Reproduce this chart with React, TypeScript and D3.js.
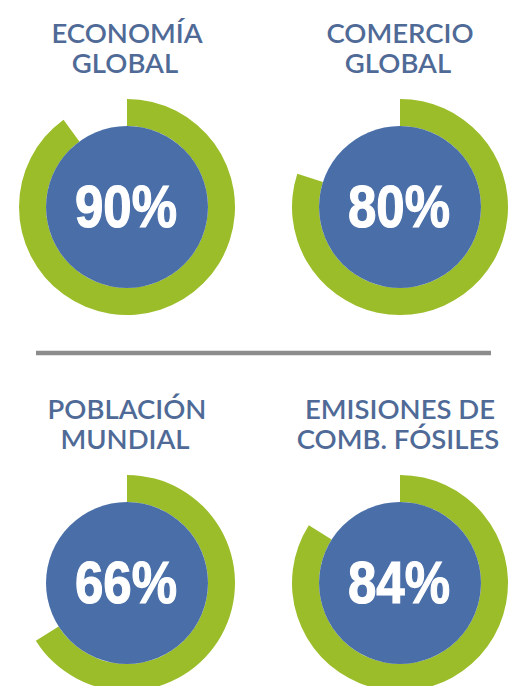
import React from "react";
import * as d3 from "d3";

const titlesLine1 = ["ECONOMÍA", "COMERCIO", "POBLACIÓN", "EMISIONES DE"];
const titlesLine2 = ["GLOBAL", "GLOBAL", "MUNDIAL", "COMB. FÓSILES"];
const shares = [90, 80, 66, 84];
const labels = ["90%", "80%", "66%", "84%"];

const W = 515;
const H = 686;
const GREEN = "#9cbd2a";
const BLUE = "#4a6fa8";
const TITLE = "#4f6a96";

export default function App() {
  const col = d3.scalePoint<number>().domain([0, 1]).range([127, 400]);
  const row = d3.scalePoint<number>().domain([0, 1]).range([207, 583]);
  const angle = d3.scaleLinear().domain([0, 100]).range([0, 2 * Math.PI]);
  const rOuter = 108;
  const rInner = 81;
  const arc = d3.arc<any>().innerRadius(rInner).outerRadius(rOuter).startAngle(0);

  return (
    <svg
      width={W}
      height={H}
      style={{ position: "absolute", left: 0, top: 0, background: "#fff" }}
    >
      <rect x={0} y={0} width={W} height={H} fill="#fff" />
      <line x1={36} x2={491} y1={353} y2={353} stroke="#8c8c8c" strokeWidth={4.5} />
      {shares.map((v, i) => {
        const cx = col(i % 2)!;
        const cy = row(Math.floor(i / 2))!;
        const t1y = cy - 164.5;
        return (
          <g key={i}>
            <text
              x={cx}
              y={t1y}
              textAnchor="middle"
              fontFamily="Lato, 'Open Sans', sans-serif"
              fontWeight={600}
              fontSize={27.5}
              fill={TITLE}
            >
              {titlesLine1[i]}
            </text>
            <text
              x={cx - 2}
              y={t1y + 30.5}
              textAnchor="middle"
              fontFamily="Lato, 'Open Sans', sans-serif"
              fontWeight={600}
              fontSize={27.5}
              fill={TITLE}
            >
              {titlesLine2[i]}
            </text>
            <g transform={`translate(${cx},${cy})`}>
              <path d={arc({ endAngle: angle(v) }) || ""} fill={GREEN} />
              <circle r={rInner} fill={BLUE} />
              <text
                transform="translate(-1,20) scale(0.85,1)"
                textAnchor="middle"
                fontFamily="'Liberation Sans', Arial, sans-serif"
                fontWeight={700}
                fontSize={60}
                fill="#fff"
                stroke="#fff"
                strokeWidth={1.2}
              >
                {labels[i]}
              </text>
            </g>
          </g>
        );
      })}
    </svg>
  );
}
